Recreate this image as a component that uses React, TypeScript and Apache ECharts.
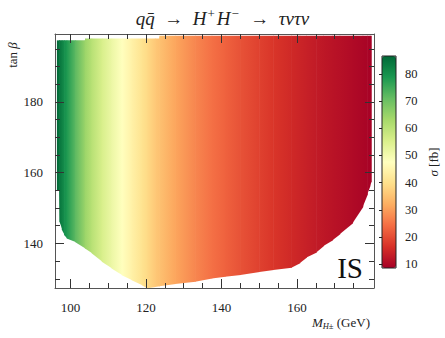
import React, { useEffect, useRef } from "react";
import * as echarts from "echarts";

// Charged-Higgs mass grid (GeV) along the scanned region
const massNodes = [
  96.4, 97.0, 97.05, 97.7, 98.3, 99.0, 101.2, 103.8, 103.85, 105.6, 108.3, 110.9,
  113.6, 116.2, 118.9, 120.2, 122.4, 123.5, 123.55, 127.7, 133.0, 137.4, 140.9,
  145.0, 150.0, 153.7, 158.5, 160.7, 162.5, 165.1, 167.0, 169.4, 171.3, 174.7,
  177.4, 178.6, 179.3, 179.8,
];
// Cross-section sigma (fb) at each mass node
const sigmaFb = [
  86.6, 84.5, 84.3, 82.5, 80.5, 78.5, 72.0, 64.5, 64.4, 60.5, 55.5, 51.5,
  47.5, 44.0, 40.5, 39.0, 36.0, 35.0, 35.0, 31.0, 27.2, 24.6, 22.8,
  20.8, 18.6, 17.0, 15.2, 14.4, 13.8, 13.0, 12.4, 11.7, 11.2, 10.3,
  9.6, 9.3, 9.0, 8.7,
];
// Lower edge of the allowed region in tan(beta)
const tanBetaLow = [
  155.0, 155.0, 146.3, 143.9, 142.4, 141.4, 140.4, 138.6, 138.6, 137.2, 134.8, 132.9,
  131.0, 129.6, 128.2, 127.3, 127.7, 127.9, 127.9, 128.5, 129.2, 130.1, 130.6,
  131.1, 131.9, 132.5, 133.1, 134.4, 136.0, 137.4, 139.3, 140.9, 142.6, 145.7,
  150.3, 153.8, 156.2, 157.5,
];
// Upper edge of the allowed region in tan(beta)
const tanBetaHigh = [
  197.4, 197.4, 197.4, 197.4, 197.4, 197.4, 197.4, 197.4, 197.9, 197.9, 197.9, 197.9,
  197.9, 197.9, 197.9, 197.9, 197.9, 197.9, 198.7, 198.7, 198.7, 198.7, 198.7,
  198.7, 198.7, 198.7, 198.7, 198.7, 198.7, 198.7, 198.7, 198.7, 198.7, 198.7,
  198.7, 198.7, 198.7, 198.7,
];

const xMajorTicks = [100, 120, 140, 160];
const xMinorTicks = [105, 110, 115, 125, 130, 135, 145, 150, 155, 165, 170, 175];
const yMajorTicks = [140, 160, 180];
const yMinorTicks = [130, 135, 145, 150, 155, 165, 170, 175, 185, 190, 195];
const colorbarTicks = [10, 20, 30, 40, 50, 60, 70, 80];

const sigmaMin = 8.6;
const sigmaMax = 86.6;
const palette = [
  "#a50026", "#d73027", "#f46d43", "#fdae61", "#fee08b", "#ffffbf",
  "#d9ef8b", "#a6d96a", "#66bd63", "#1a9850", "#006837",
];

const FONT = "Liberation Serif";
const TXT = "#222";

function sigmaColor(s: number): string {
  let t = (s - sigmaMin) / (sigmaMax - sigmaMin);
  t = Math.max(0, Math.min(1, t));
  return echarts.color.lerp(t, palette) as string;
}

function makeAxis(kind: "x" | "y", position: string, major: boolean, withLabels: boolean, withLine: boolean) {
  const isX = kind === "x";
  const ticks = isX ? (major ? xMajorTicks : xMinorTicks) : major ? yMajorTicks : yMinorTicks;
  return {
    type: "value",
    gridIndex: 0,
    position,
    min: isX ? 95.9 : 127.4,
    max: isX ? 180.4 : 199.2,
    z: 10,
    splitLine: { show: false },
    minorTick: { show: false },
    axisLine: { show: withLine, onZero: false, lineStyle: { color: "#555", width: 1 } },
    axisTick: {
      show: true,
      inside: true,
      length: major ? 9 : 5,
      customValues: ticks,
      lineStyle: { color: "#333", width: 1 },
    },
    axisLabel: withLabels
      ? {
          show: true,
          customValues: ticks,
          margin: isX ? 13 : 12,
          fontFamily: FONT,
          fontSize: 13,
          color: TXT,
        }
      : { show: false },
  };
}

export default function App() {
  const ref = useRef<HTMLDivElement>(null);

  useEffect(() => {
    if (!ref.current) return;
    const chart = echarts.init(ref.current, null, { renderer: "svg" });
    const n = massNodes.length;

    const main = { fontFamily: FONT, fontWeight: "normal", fontSize: 19, lineHeight: 22, color: TXT };
    const option: any = {
      animation: false,
      backgroundColor: "#fff",
      textStyle: { fontFamily: FONT },
      title: {
        text:
          "{i|q}{i|q\u0304}{n|  \u2192  }{i|H}{s|+}{i|H}{s|\u2212}{n|  \u2192  }{i|\u03C4\u03BD\u03C4\u03BD}",
        left: "center",
        top: 2,
        textStyle: {
          fontFamily: FONT,
          fontSize: 19,
          fontWeight: "normal",
          color: TXT,
          rich: {
            i: { ...main, fontStyle: "italic" },
            n: { ...main },
            s: { fontFamily: FONT, fontWeight: "normal", fontSize: 13, lineHeight: 13, color: TXT, verticalAlign: "top", padding: [0, 2, 0, 1] },
          },
        },
      },
      grid: [
        { left: 55, right: 71, top: 34, bottom: 50, containLabel: false },
        {
          left: 382,
          top: 56,
          width: 14,
          height: 212,
          show: true,
          borderColor: "#222",
          borderWidth: 1,
          backgroundColor: "transparent",
          z: 10,
        },
      ],
      xAxis: [
        makeAxis("x", "bottom", true, true, true),
        makeAxis("x", "bottom", false, false, false),
        makeAxis("x", "top", true, false, true),
        makeAxis("x", "top", false, false, false),
        { type: "value", gridIndex: 1, show: false, min: 0, max: 1 },
      ],
      yAxis: [
        makeAxis("y", "left", true, true, true),
        makeAxis("y", "left", false, false, false),
        makeAxis("y", "right", true, false, true),
        makeAxis("y", "right", false, false, false),
        {
          type: "value",
          gridIndex: 1,
          position: "right",
          min: sigmaMin,
          max: sigmaMax,
          z: 12,
          splitLine: { show: false },
          axisLine: { show: false },
          axisTick: {
            show: true,
            inside: true,
            length: 3,
            customValues: colorbarTicks,
            lineStyle: { color: "#222" },
          },
          axisLabel: {
            show: true,
            customValues: colorbarTicks,
            margin: 9,
            fontFamily: FONT,
            fontSize: 12.5,
            color: TXT,
          },
          name: "{i|\u03C3} [fb]",
          nameLocation: "middle",
          nameRotate: 90,
          nameGap: 31,
          nameTextStyle: {
            fontFamily: FONT,
            fontSize: 13,
            color: TXT,
            rich: {
              i: { fontFamily: FONT, fontStyle: "italic", fontSize: 13, color: TXT },
            },
          },
        },
      ],
      visualMap: {
        type: "continuous",
        min: sigmaMin,
        max: sigmaMax,
        seriesIndex: 0,
        dimension: 1,
        calculable: false,
        hoverLink: false,
        orient: "vertical",
        left: 382,
        top: 56,
        itemWidth: 14,
        itemHeight: 212,
        padding: 0,
        inRange: { color: palette },
        textStyle: { color: "transparent" },
      },
      graphic: [
        {
          type: "text",
          x: 12,
          y: 55,
          rotation: Math.PI / 2,
          style: {
            text: "{n|tan} {i|\u03B2}",
            fontFamily: FONT,
            fontSize: 13,
            fill: TXT,
            align: "center",
            verticalAlign: "middle",
            rich: {
              n: { fontFamily: FONT, fontSize: 13, color: TXT },
              i: { fontFamily: FONT, fontSize: 13, fontStyle: "italic", color: TXT },
            },
          },
        },
        {
          type: "text",
          x: 370,
          y: 324,
          style: {
            text: "{i|M}{s|H\u00B1}{n| (GeV)}",
            fontFamily: FONT,
            fontSize: 13,
            fill: TXT,
            align: "right",
            verticalAlign: "middle",
            rich: {
              i: { fontFamily: FONT, fontSize: 13, fontStyle: "italic", color: TXT, lineHeight: 13, padding: [0, 0, 3, 0] },
              s: { fontFamily: FONT, fontSize: 8.5, fontStyle: "italic", color: TXT, lineHeight: 9, verticalAlign: "bottom" },
              n: { fontFamily: FONT, fontSize: 13, color: TXT, lineHeight: 13, padding: [0, 0, 3, 0] },
            },
          },
        },
        {
          type: "text",
          x: 363,
          y: 268,
          z: 20,
          style: {
            text: "IS",
            fontFamily: FONT,
            fontSize: 29,
            fill: "#111",
            align: "right",
            verticalAlign: "middle",
          },
        },
      ],
      series: [
        {
          type: "custom",
          coordinateSystem: "cartesian2d",
          xAxisIndex: 0,
          yAxisIndex: 0,
          clip: true,
          z: 2,
          silent: true,
          encode: { x: 0, y: [2, 3] },
          data: massNodes.map((m, i) => [m, sigmaFb[i], tanBetaLow[i], tanBetaHigh[i]]),
          renderItem: (params: any, api: any) => {
            const i = params.dataIndex;
            if (i >= n - 1) return null;
            const m0 = api.value(0);
            const m1 = massNodes[i + 1];
            const a = api.coord([m0, tanBetaHigh[i]]);
            const b = api.coord([m1, tanBetaHigh[i + 1]]);
            const c = api.coord([m1, tanBetaLow[i + 1]]);
            const d = api.coord([m0, tanBetaLow[i]]);
            const pad = i < n - 2 ? 0.6 : 0;
            return {
              type: "polygon",
              shape: {
                points: [a, [b[0] + pad, b[1]], [c[0] + pad, c[1]], d],
              },
              style: {
                fill: new echarts.graphic.LinearGradient(0, 0, 1, 0, [
                  { offset: 0, color: sigmaColor(sigmaFb[i]) },
                  { offset: 1, color: sigmaColor(sigmaFb[i + 1]) },
                ]),
                stroke: null,
              },
            };
          },
        },
      ],
    };

    chart.setOption(option);
    return () => chart.dispose();
  }, []);

  return <div ref={ref} style={{ width: 445, height: 338, position: "absolute", left: 0, top: 0 }} />;
}
